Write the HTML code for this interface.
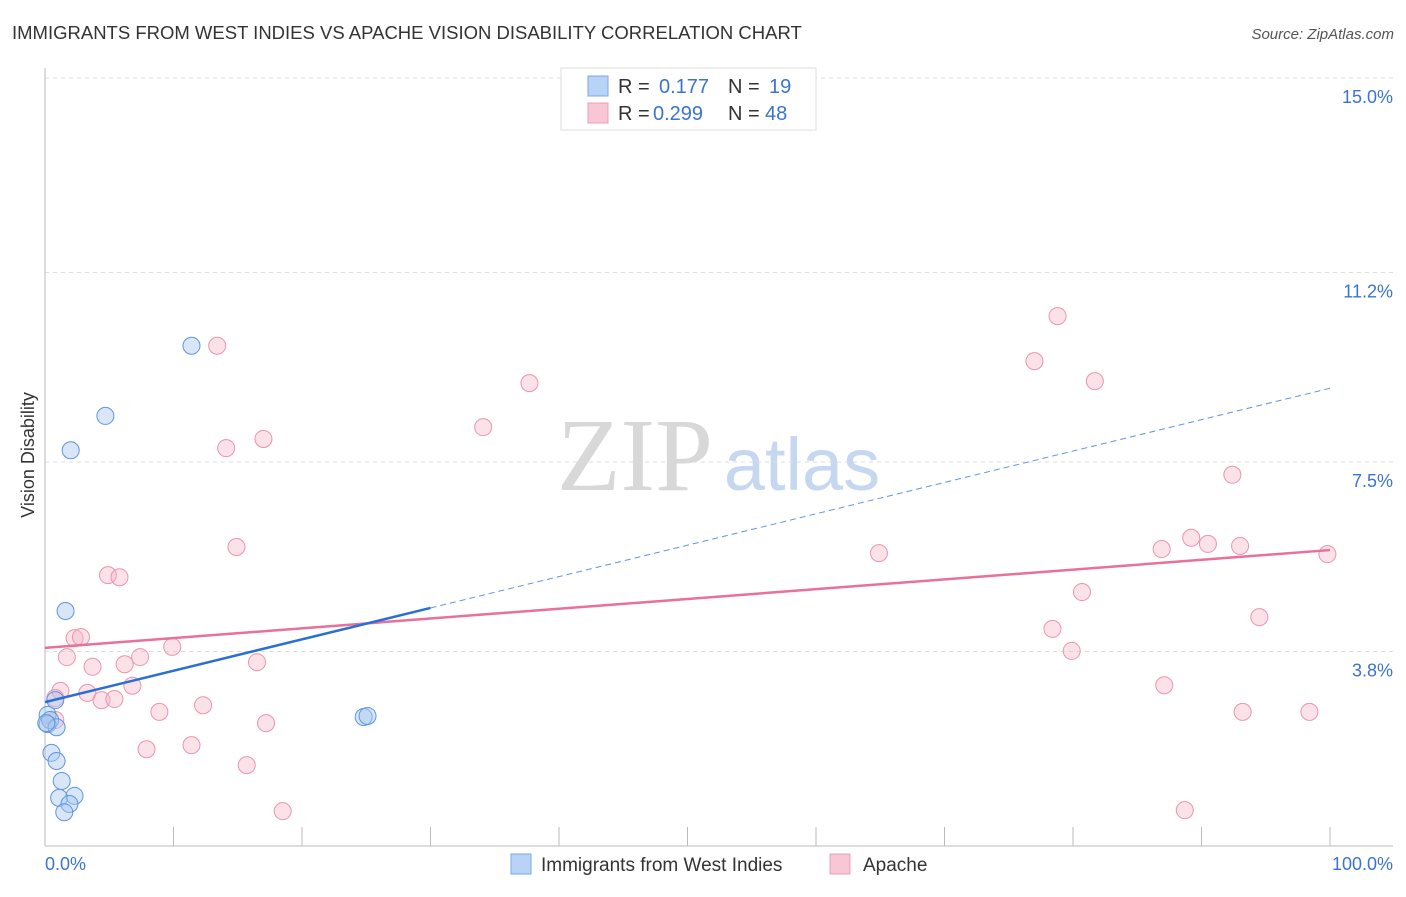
<!DOCTYPE html>
<html><head><meta charset="utf-8"><style>
body{margin:0;background:#fff;font-family:"Liberation Sans",sans-serif}
</style></head><body>
<svg width="1406" height="892" xmlns="http://www.w3.org/2000/svg" font-family="Liberation Sans, sans-serif">
<text x="12" y="39" font-size="18.5" fill="#333">IMMIGRANTS FROM WEST INDIES VS APACHE VISION DISABILITY CORRELATION CHART</text>
<text x="1394" y="39" font-size="15" fill="#555" font-style="italic" text-anchor="end">Source: ZipAtlas.com</text>
<text x="635" y="490" font-size="104" fill="#d8d8d8" font-family="Liberation Serif, serif" text-anchor="middle">ZIP</text>
<text x="802" y="490" font-size="74" fill="#c5d8f0" text-anchor="middle">atlas</text>
<text transform="translate(34,455) rotate(-90)" font-size="18" fill="#333" text-anchor="middle">Vision Disability</text>
<g id="grid"></g><g id="axes"></g><g id="pts"></g><g id="lines"></g>
<g>
<rect x="561" y="68" width="255" height="62" fill="#fff" stroke="#ddd"/>
<rect x="588" y="76" width="20" height="20" fill="#b8d3f5" stroke="#7aa8e5"/>
<rect x="588" y="103" width="20" height="20" fill="#f9c6d5" stroke="#ec9fb8"/>
<text x="618" y="93" font-size="20" fill="#333">R = </text><text x="659" y="93" font-size="20" fill="#3b74d0">0.177</text>
<text x="728" y="93" font-size="20" fill="#333">N = </text><text x="769" y="93" font-size="20" fill="#3b74d0">19</text>
<text x="618" y="120" font-size="20" fill="#333">R = </text><text x="653" y="120" font-size="20" fill="#3b74d0">0.299</text>
<text x="728" y="120" font-size="20" fill="#333">N = </text><text x="765" y="120" font-size="20" fill="#3b74d0">48</text>
</g>
<g>
<rect x="511" y="854" width="20" height="20" fill="#b8d3f5" stroke="#7aa8e5"/>
<text x="541" y="871" font-size="19" fill="#333">Immigrants from West Indies</text>
<rect x="830" y="854" width="20" height="20" fill="#f9c6d5" stroke="#ec9fb8"/>
<text x="863" y="871" font-size="19" fill="#333">Apache</text>
</g>
</svg>
<script>
const yTicks=[3.8,7.5,11.2,15.0];
const yTickLabels=["3.8%","7.5%","11.2%","15.0%"];
const xLabels=["0.0%","100.0%"];
const blueX=[11.4,4.7,2.0,1.6,0.8,0.2,0.2,0.4,0.9,0.5,0.9,1.3,1.1,2.3,1.9,1.5,24.8,25.1,0.1];
const blueY=[9.77,8.40,7.73,4.59,2.85,2.56,2.38,2.46,2.32,1.82,1.66,1.27,0.94,0.98,0.82,0.66,2.52,2.54,2.40];
const pinkX=[13.4,37.7,34.1,14.1,17.0,14.9,4.9,5.8,2.3,2.8,1.7,3.7,6.2,7.4,9.9,16.5,1.2,0.8,3.3,4.4,5.4,6.8,8.9,12.3,17.2,7.9,11.4,15.7,18.5,0.8,64.9,78.8,77.0,81.7,92.4,86.9,89.2,90.5,93.0,99.8,80.7,78.4,79.9,94.5,87.1,93.2,98.4,88.7];
const pinkY=[9.77,9.04,8.18,7.77,7.95,5.84,5.29,5.25,4.06,4.08,3.69,3.50,3.55,3.69,3.89,3.59,3.03,2.89,2.99,2.85,2.87,3.13,2.62,2.75,2.40,1.89,1.97,1.58,0.68,2.46,5.72,10.35,9.47,9.08,7.25,5.80,6.02,5.90,5.86,5.70,4.96,4.24,3.81,4.47,3.14,2.62,2.62,0.70];
const pinkTrend=[3.87,5.78];
const blueTrend=[2.81,8.94];
const blueSolidEnd=30;
const NS="http://www.w3.org/2000/svg";
const X=v=>45+v*12.85, Y=v=>846-v*51.2;
function mk(tag,attrs,parent){const e=document.createElementNS(NS,tag);for(const k in attrs)e.setAttribute(k,attrs[k]);document.getElementById(parent).appendChild(e);return e;}
yTicks.forEach((t,i)=>{
 const g=mk('line',{x1:45,x2:1393,y1:Y(t),y2:Y(t),stroke:'#ddd','stroke-dasharray':'4,4'},'grid');
 
 
 const l=mk('text',{x:1393,y:Y(t)+25,'font-size':18,fill:'#3b74d0','text-anchor':'end'},'grid');
 l.textContent=yTickLabels[i];
 
 
});
let a=mk('line',{x1:45,x2:45,y1:68,y2:846,stroke:'#bbb'},'axes');


a=mk('line',{x1:45,x2:1393,y1:846,y2:846,stroke:'#bbb'},'axes');


for(let i=1;i<=10;i++){const t=mk('line',{x1:X(i*10),x2:X(i*10),y1:827,y2:846,stroke:'#bbb'},'axes');
 
 }
[[0,'start',45],[100,'end',1393]].forEach((d,i)=>{const t=mk('text',{x:d[2],y:870,'font-size':18,fill:'#3b74d0','text-anchor':d[1]},'axes');t.textContent=xLabels[i];
 
 });
pinkX.forEach((x,i)=>{const c=mk('circle',{cx:X(x),cy:Y(pinkY[i]),r:8.5,fill:'rgba(246,182,201,0.4)',stroke:'#eb94b0','stroke-width':1},'pts');
 
 });
blueX.forEach((x,i)=>{const c=mk('circle',{cx:X(x),cy:Y(blueY[i]),r:8.5,fill:'rgba(169,200,240,0.45)',stroke:'#5f96de','stroke-width':1},'pts');
 
 });
let t=mk('line',{x1:X(0),y1:Y(pinkTrend[0]),x2:X(100),y2:Y(pinkTrend[1]),stroke:'#e8709a','stroke-width':2.5},'lines');


const bAt=v=>blueTrend[0]+(blueTrend[1]-blueTrend[0])*v/100;
t=mk('line',{x1:X(0),y1:Y(bAt(0)),x2:X(blueSolidEnd),y2:Y(bAt(blueSolidEnd)),stroke:'#2a6fd6','stroke-width':2.5},'lines');


t=mk('line',{x1:X(blueSolidEnd),y1:Y(bAt(blueSolidEnd)),x2:X(100),y2:Y(bAt(100)),stroke:'#5f96de','stroke-width':1,'stroke-dasharray':'6,4'},'lines');


</script>
</body></html>
